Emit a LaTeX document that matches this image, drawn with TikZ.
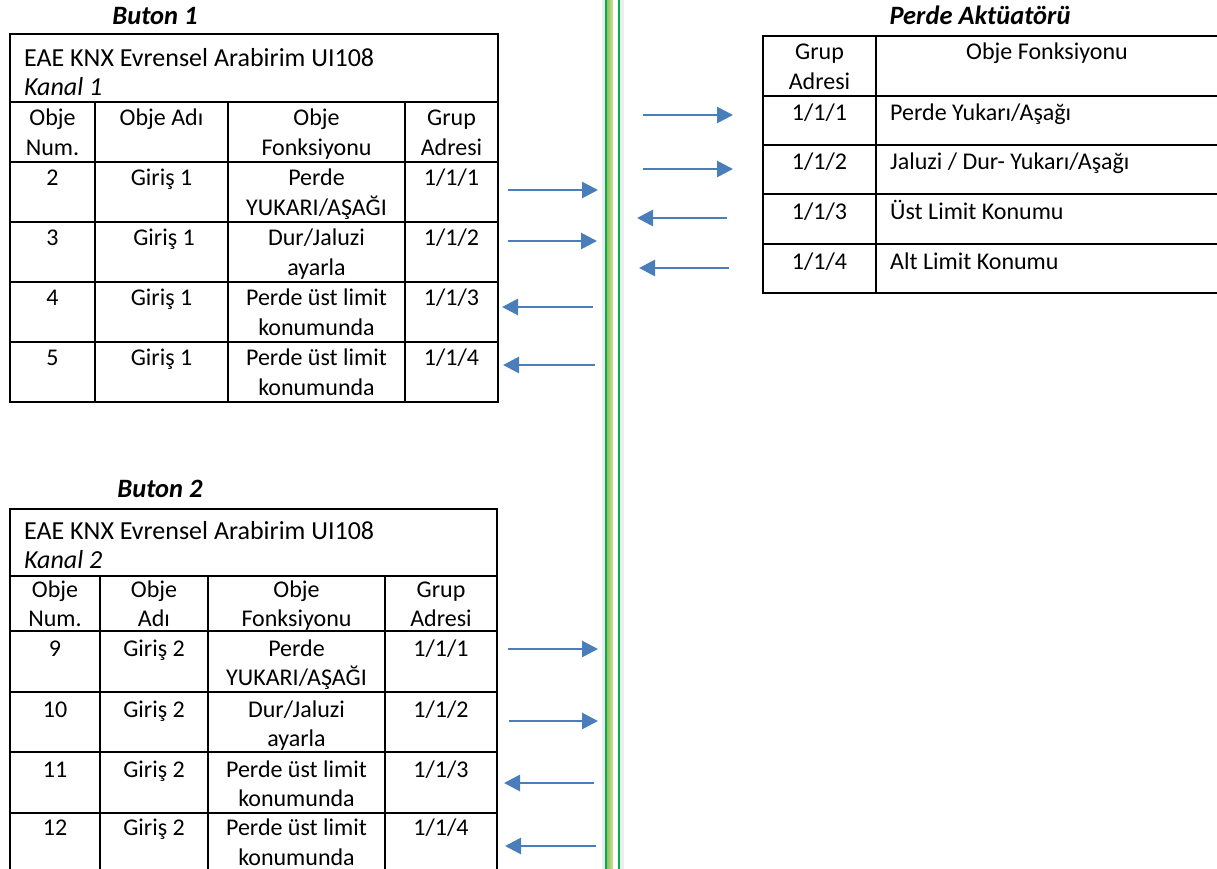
\documentclass[tikz,border=0pt]{standalone}
\usepackage{fontspec}
\setmainfont{Carlito}
\usetikzlibrary{arrows.meta}

\newcommand{\cellfont}{\fontsize{24}{29.5}\selectfont}
\newcommand{\headfont}{\fontsize{26}{29}\selectfont}
\definecolor{arrowBlue}{HTML}{4A7EBB}
\definecolor{busGreen}{HTML}{00B050}
\definecolor{busLight}{HTML}{92C353}

\tikzset{
  cellText/.style={anchor=base, inner sep=0pt, align=center, font=\cellfont},
  twoLine/.style={yshift=-29.5pt},
  leftText/.style={cellText, anchor=base west, align=left},
  deviceText/.style={anchor=base west, inner sep=0pt, align=left, font=\headfont},
  tableTitle/.style={anchor=base, inner sep=0pt, font=\fontsize{26.5}{30}\selectfont\bfseries\itshape},
  tableLine/.style={line width=1.6pt},
  busArrow/.style={draw=arrowBlue, line width=2.8pt, -{Triangle[length=16pt,width=16pt]}},
}

\begin{document}
\begin{tikzpicture}[x=1pt, y=-1pt]
	\useasboundingbox (0,0) rectangle (1217,869);

	% bus line in the middle
	\fill[black!7] (602,-2) rectangle (624,871);
	\fill[white] (613,-2) rectangle (618,871);
	\shade[left color=busLight, right color=busLight!50] (607,-2) rectangle (613,871);
	\draw[busGreen, line width=2pt] (606,-2) -- (606,871);
	\draw[busGreen, line width=2pt] (619,-2) -- (619,871);

	% Buton 1
	\node[tableTitle](buton1Title) at (155,25){Buton 1};
	\draw[tableLine] (10,34) rectangle (498,402);
	\draw[tableLine] (10,102) -- (498,102) (10,162) -- (498,162) (10,222) -- (498,222) (10,282) -- (498,282) (10,342) -- (498,342);
	\draw[tableLine] (95,102) -- (95,402) (228,102) -- (228,402) (405,102) -- (405,402);
	\node[deviceText](b1Device) at (24,95.5){EAE KNX Evrensel Arabirim UI108\\\textit{Kanal 1}};
	\node[cellText, twoLine](b1HeadNum) at (52.5,126){Obje\\Num.};
	\node[cellText](b1HeadName) at (161.5,126){Obje Adı};
	\node[cellText, twoLine](b1HeadFunc) at (316.5,126){Obje\\Fonksiyonu};
	\node[cellText, twoLine](b1HeadAddr) at (451.5,126){Grup\\Adresi};
	\node[cellText](b1NumA) at (52.5,185.5){2};
	\node[cellText](b1NameA) at (161.5,185.5){Giriş 1};
	\node[cellText, twoLine](b1FuncA) at (316.5,185.5){Perde\\YUKARI/AŞAĞI};
	\node[cellText](b1AddrA) at (451.5,185.5){1/1/1};
	\node[cellText](b1NumB) at (52.5,245.5){3};
	\node[cellText](b1NameB) at (164,245.5){Giriş 1};
	\node[cellText, twoLine](b1FuncB) at (316.5,245.5){Dur/Jaluzi\\ayarla};
	\node[cellText](b1AddrB) at (451.5,245.5){1/1/2};
	\node[cellText](b1NumC) at (52.5,305.5){4};
	\node[cellText](b1NameC) at (161.5,305.5){Giriş 1};
	\node[cellText, twoLine](b1FuncC) at (316.5,305.5){Perde üst limit\\konumunda};
	\node[cellText](b1AddrC) at (451.5,305.5){1/1/3};
	\node[cellText](b1NumD) at (52.5,365.5){5};
	\node[cellText](b1NameD) at (161.5,365.5){Giriş 1};
	\node[cellText, twoLine](b1FuncD) at (316.5,365.5){Perde üst limit\\konumunda};
	\node[cellText](b1AddrD) at (451.5,365.5){1/1/4};

	% Buton 2
	\node[tableTitle](buton2Title) at (160,497){Buton 2};
	\draw[tableLine] (497,875) -- (497,509) -- (10,509) -- (10,875);
	\draw[tableLine] (10,576) -- (497,576) (10,631) -- (497,631) (10,692) -- (497,692) (10,752) -- (497,752) (10,813) -- (497,813);
	\draw[tableLine] (100,576) -- (100,875) (208,576) -- (208,875) (385,576) -- (385,875);
	\node[deviceText](b2Device) at (24,568){EAE KNX Evrensel Arabirim UI108\\\textit{Kanal 2}};
	\node[cellText, twoLine](b2HeadNum) at (55,597){Obje\\Num.};
	\node[cellText, twoLine](b2HeadName) at (154,597){Obje\\Adı};
	\node[cellText, twoLine](b2HeadFunc) at (296.5,597){Obje\\Fonksiyonu};
	\node[cellText, twoLine](b2HeadAddr) at (441,597){Grup\\Adresi};
	\node[cellText](b2NumA) at (55,656){9};
	\node[cellText](b2NameA) at (154,656){Giriş 2};
	\node[cellText, twoLine](b2FuncA) at (296.5,656){Perde\\YUKARI/AŞAĞI};
	\node[cellText](b2AddrA) at (441,656){1/1/1};
	\node[cellText](b2NumB) at (55,717){10};
	\node[cellText](b2NameB) at (154,717){Giriş 2};
	\node[cellText, twoLine](b2FuncB) at (296.5,717){Dur/Jaluzi\\ayarla};
	\node[cellText](b2AddrB) at (441,717){1/1/2};
	\node[cellText](b2NumC) at (55,777){11};
	\node[cellText](b2NameC) at (154,777){Giriş 2};
	\node[cellText, twoLine](b2FuncC) at (296.5,777){Perde üst limit\\konumunda};
	\node[cellText](b2AddrC) at (441,777){1/1/3};
	\node[cellText](b2NumD) at (55,835.5){12};
	\node[cellText](b2NameD) at (154,835.5){Giriş 2};
	\node[cellText, twoLine](b2FuncD) at (296.5,835.5){Perde üst limit\\konumunda};
	\node[cellText](b2AddrD) at (441,835.5){1/1/4};

	% Perde aktuatoru
	\node[tableTitle](actuatorTitle) at (980,25){Perde Aktüatörü};
	\draw[tableLine] (1222,36) -- (763,36) -- (763,293) -- (1222,293);
	\draw[tableLine] (763,96) -- (1222,96) (763,145) -- (1222,145) (763,194) -- (1222,194) (763,244) -- (1222,244);
	\draw[tableLine] (876,36) -- (876,293);
	\node[cellText, twoLine](actHeadAddr) at (819.5,60){Grup\\Adresi};
	\node[cellText](actHeadFunc) at (1047,60){Obje Fonksiyonu};
	\node[cellText](actAddrA) at (819.5,121){1/1/1};
	\node[leftText](actFuncA) at (890,121){Perde Yukarı/Aşağı};
	\node[cellText](actAddrB) at (819.5,170){1/1/2};
	\node[leftText](actFuncB) at (890,170){Jaluzi / Dur- Yukarı/Aşağı};
	\node[cellText](actAddrC) at (819.5,219){1/1/3};
	\node[leftText](actFuncC) at (890,219){Üst Limit Konumu};
	\node[cellText](actAddrD) at (819.5,269){1/1/4};
	\node[leftText](actFuncD) at (890,269){Alt Limit Konumu};

	% arrow ends
	\coordinate(b1ArrowATail) at (508,190);
	\coordinate(b1ArrowATip) at (598,190);
	\coordinate(b1ArrowBTail) at (508,241);
	\coordinate(b1ArrowBTip) at (597,241);
	\coordinate(b1ArrowCTail) at (593,307);
	\coordinate(b1ArrowCTip) at (502,307);
	\coordinate(b1ArrowDTail) at (595,365);
	\coordinate(b1ArrowDTip) at (503,365);
	\coordinate(actArrowATail) at (643,115);
	\coordinate(actArrowATip) at (733,115);
	\coordinate(actArrowBTail) at (643,169);
	\coordinate(actArrowBTip) at (733,169);
	\coordinate(actArrowCTail) at (727,218);
	\coordinate(actArrowCTip) at (637,218);
	\coordinate(actArrowDTail) at (729,268);
	\coordinate(actArrowDTip) at (639,268);
	\coordinate(b2ArrowATail) at (508,649);
	\coordinate(b2ArrowATip) at (598,649);
	\coordinate(b2ArrowBTail) at (509,721);
	\coordinate(b2ArrowBTip) at (598,721);
	\coordinate(b2ArrowCTail) at (594,783);
	\coordinate(b2ArrowCTip) at (504,783);
	\coordinate(b2ArrowDTail) at (596,846);
	\coordinate(b2ArrowDTip) at (505,846);

	\draw[busArrow] (b1ArrowATail) -- (b1ArrowATip);
	\draw[busArrow] (b1ArrowBTail) -- (b1ArrowBTip);
	\draw[busArrow] (b1ArrowCTail) -- (b1ArrowCTip);
	\draw[busArrow] (b1ArrowDTail) -- (b1ArrowDTip);
	\draw[busArrow] (actArrowATail) -- (actArrowATip);
	\draw[busArrow] (actArrowBTail) -- (actArrowBTip);
	\draw[busArrow] (actArrowCTail) -- (actArrowCTip);
	\draw[busArrow] (actArrowDTail) -- (actArrowDTip);
	\draw[busArrow] (b2ArrowATail) -- (b2ArrowATip);
	\draw[busArrow] (b2ArrowBTail) -- (b2ArrowBTip);
	\draw[busArrow] (b2ArrowCTail) -- (b2ArrowCTip);
	\draw[busArrow] (b2ArrowDTail) -- (b2ArrowDTip);
\end{tikzpicture}
\end{document}
